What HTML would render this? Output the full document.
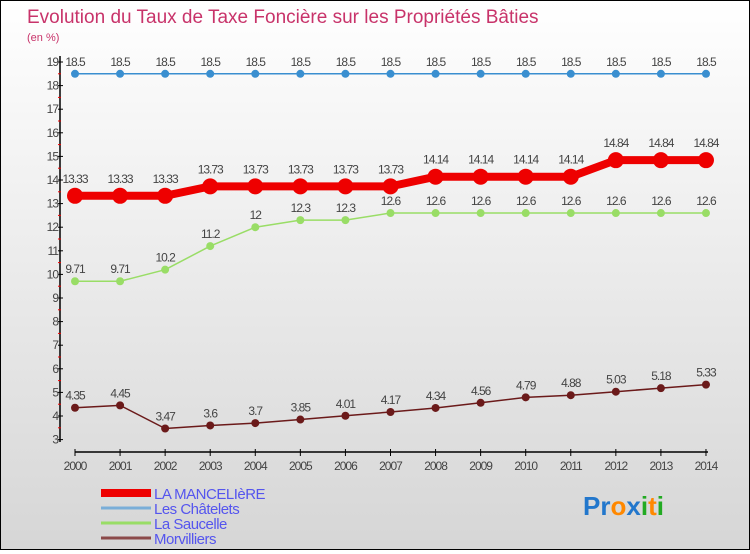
<!DOCTYPE html>
<html><head><meta charset="utf-8"><style>
body{margin:0}
#wrap{width:748px;height:548px;border:1px solid #000;background:linear-gradient(#fff,#d6d6d6);position:relative;font-family:"Liberation Sans",sans-serif}
</style></head><body>
<div id="wrap">
<svg id="chart" width="748" height="548"></svg>
</div>
<script>
const years=[2000,2001,2002,2003,2004,2005,2006,2007,2008,2009,2010,2011,2012,2013,2014];
const mancel=[13.33,13.33,13.33,13.73,13.73,13.73,13.73,13.73,14.14,14.14,14.14,14.14,14.84,14.84,14.84];
const chatelets=[18.5,18.5,18.5,18.5,18.5,18.5,18.5,18.5,18.5,18.5,18.5,18.5,18.5,18.5,18.5];
const saucelle=[9.71,9.71,10.2,11.2,12,12.3,12.3,12.6,12.6,12.6,12.6,12.6,12.6,12.6,12.6];
const morv=[4.35,4.45,3.47,3.6,3.7,3.85,4.01,4.17,4.34,4.56,4.79,4.88,5.03,5.18,5.33];
const yTicks=[3,4,5,6,7,8,9,10,11,12,13,14,15,16,17,18,19];
const names=["LA MANCELIèRE","Les Châtelets","La Saucelle","Morvilliers"];
const svg=document.getElementById('chart');const NS='http://www.w3.org/2000/svg';
function el(t,a,p){const e=document.createElementNS(NS,t);for(const k in a)e.setAttribute(k,a[k]);(p||svg).appendChild(e);return e;}
const X=i=>74+i*45.07, Y=v=>61+(19-v)*23.6;
let t=el('text',{x:26,y:22,'font-size':19,fill:'#c8336a'});t.textContent='Evolution du Taux de Taxe Foncière sur les Propriétés Bâties';

t=el('text',{x:26,y:40,'font-size':11,fill:'#c8336a'});t.textContent='(en %)';

let ax=el('line',{x1:59,y1:55,x2:59,y2:441,stroke:'#000','stroke-width':1.5});

yTicks.forEach(v=>{el('line',{x1:57,x2:62,y1:Y(v),y2:Y(v),stroke:'#000'});
 if(v<19)el('line',{x1:57,x2:60,y1:Y(v+0.5),y2:Y(v+0.5),stroke:'#e00'});
 const l=el('text',{x:57,y:Y(v)+4,'font-size':12,fill:'#444','text-anchor':'end','letter-spacing':'-1'});l.textContent=v;
 });
ax=el('line',{x1:74,y1:451,x2:707,y2:451,stroke:'#000','stroke-width':1.5});

years.forEach((y,i)=>{el('line',{x1:X(i),x2:X(i),y1:448,y2:455,stroke:'#000'});
 const l=el('text',{x:X(i),y:469,'font-size':12,fill:'#444','text-anchor':'middle','letter-spacing':'-1'});l.textContent=y;
 });
function series(d,col,w,r,name,lab){
 const g=el('g',{});
 el('polyline',{points:d.map((v,i)=>X(i)+','+Y(v)).join(' '),fill:'none',stroke:col,'stroke-width':w,'stroke-linejoin':'round'},g);
 d.forEach((v,i)=>{const c=el('circle',{cx:X(i),cy:Y(v),r:r,fill:col},g);
  const l=el('text',{x:X(i),y:Y(v)-lab,'font-size':12,fill:'#444','text-anchor':'middle','letter-spacing':'-1'},g);l.textContent=v;
  });
}
series(chatelets,'#3a8fd0',1.5,4,'series-les-chatelets',8);
series(saucelle,'#99dd66',1.5,4,'series-la-saucelle',8);
series(morv,'#6b1a1a',1.5,4,'series-morvilliers',8);
series(mancel,'#ee0000',8,8,'series-la-manceliere',13);
const lc=['#ee0000','#7aaed8','#99dd66','#8b4a4a'],lw=[8,3,3,3];
names.forEach((n,i)=>{const y=492+i*15;
 const g=el('g',{});
 el('line',{x1:100,x2:150,y1:y,y2:y,stroke:lc[i],'stroke-width':lw[i]},g);
 const l=el('text',{x:153,y:y+6,'font-size':15,fill:'#5555ee','letter-spacing':'-0.5'},g);l.textContent=n;});
const lg=el('text',{x:582,y:514,'font-size':26,'font-weight':'bold','font-family':'Liberation Sans'});

[['Pr','#2277cc'],['o','#ff8800'],['x','#2277cc'],['i','#22aa22'],['t','#ff8800'],['i','#22aa22']].forEach(([s,c])=>{const sp=el('tspan',{fill:c},lg);sp.textContent=s;});
</script>
</body></html>
